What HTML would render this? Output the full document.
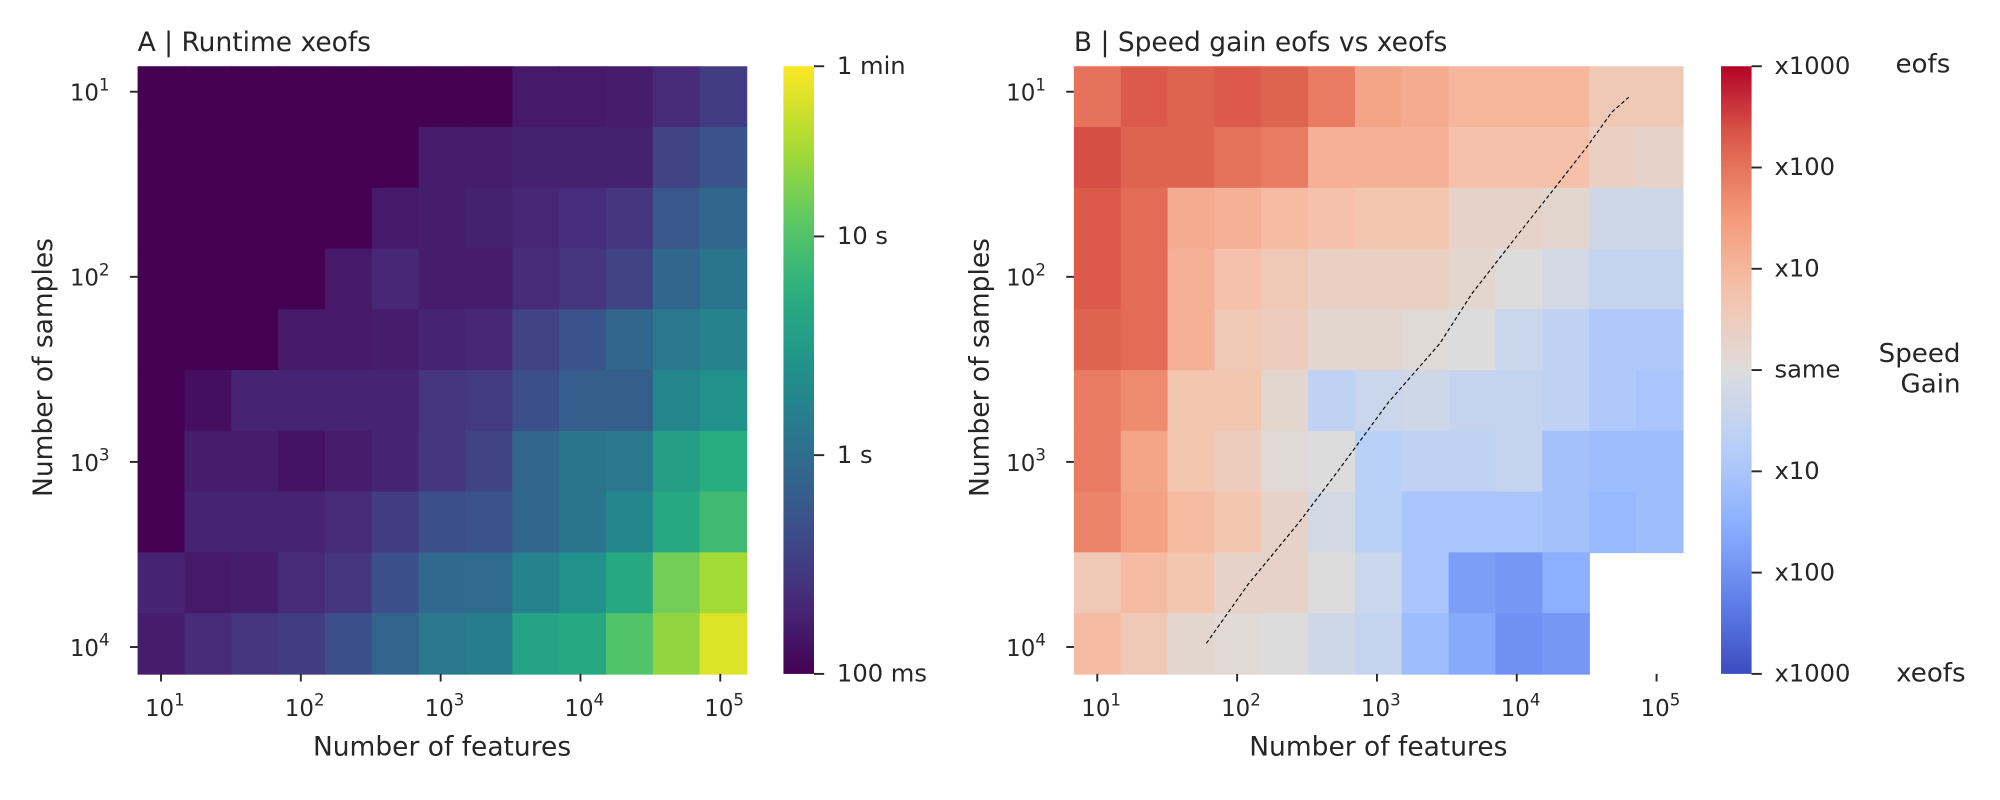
<!DOCTYPE html>
<html><head><meta charset="utf-8"><style>
html,body{margin:0;padding:0;background:#fff;}
svg{display:block;font-family:"DejaVu Sans","Liberation Sans",sans-serif;}
text{fill:#262626;}
</style></head><body>
<svg id="fig" width="2000" height="800" viewBox="0 0 1568 628" xmlns="http://www.w3.org/2000/svg">
<g id="panelA"></g>
<g id="panelB"></g>
</svg>
<script>
// ---- data ----
const featureTicks = [1, 2, 3, 4, 5];           // log10 of features
const sampleTicks = [1, 2, 3, 4];               // log10 of samples
const nCols = 13;
const nRows = 10;
// Panel A: log10(runtime in seconds) per cell (rows = samples, cols = features)
const runtimeLog = [
[-1,-1,-1,-1,-1,-1,-1,-1,-0.81,-0.81,-0.78,-0.67,-0.5],
[-1,-1,-1,-1,-1,-1,-0.78,-0.78,-0.75,-0.75,-0.75,-0.44,-0.28],
[-1,-1,-1,-1,-1,-0.81,-0.78,-0.75,-0.69,-0.64,-0.56,-0.25,-0.08],
[-1,-1,-1,-1,-0.81,-0.69,-0.78,-0.78,-0.67,-0.58,-0.44,-0.08,0.06],
[-1,-1,-1,-0.81,-0.81,-0.78,-0.72,-0.69,-0.44,-0.28,-0.08,0.11,0.22],
[-1,-0.89,-0.72,-0.72,-0.72,-0.72,-0.58,-0.53,-0.33,-0.17,-0.17,0.25,0.39],
[-1,-0.78,-0.78,-0.86,-0.78,-0.72,-0.56,-0.44,-0.08,0.06,0.11,0.56,0.72],
[-1,-0.72,-0.72,-0.72,-0.67,-0.5,-0.33,-0.28,-0.08,0.06,0.28,0.67,0.89],
[-0.72,-0.81,-0.78,-0.67,-0.56,-0.33,-0.06,-0.03,0.22,0.39,0.67,1.17,1.39],
[-0.78,-0.67,-0.56,-0.5,-0.33,-0.11,0.11,0.17,0.61,0.67,1.0,1.31,1.64]
];
const runtimeTickVals = [-1, 0, 1, 1.778];
const runtimeTickLabels = ["100 ms", "1 s", "10 s", "1 min"];
// Panel B: log10(speed gain), positive = eofs faster
const gainLog = [
[2.0,2.3,2.2,2.3,2.2,1.9,1.3,1.2,1.0,1.0,1.0,0.6,0.6],
[2.4,2.2,2.2,2.0,1.9,1.1,1.1,1.1,0.8,0.8,0.8,0.4,0.3],
[2.3,2.1,1.2,1.1,0.9,0.8,0.7,0.7,0.3,0.3,0.2,-0.3,-0.3],
[2.3,2.1,1.1,0.8,0.6,0.4,0.4,0.4,0.2,0.0,-0.2,-0.5,-0.5],
[2.2,2.1,1.1,0.6,0.5,0.2,0.2,0.1,0.0,-0.4,-0.6,-0.9,-0.9],
[1.9,1.7,0.7,0.7,0.2,-0.6,-0.4,-0.3,-0.5,-0.5,-0.6,-0.9,-1.0],
[1.9,1.3,0.7,0.5,0.1,0.0,-0.7,-0.6,-0.6,-0.5,-1.1,-1.2,-1.2],
[1.8,1.4,0.9,0.7,0.3,-0.2,-0.7,-1.0,-1.0,-1.0,-1.1,-1.3,-1.2],
[0.6,0.9,0.7,0.3,0.3,0.0,-0.4,-1.0,-1.8,-1.9,-1.5,null,null],
[0.9,0.6,0.2,0.1,0.0,-0.3,-0.5,-1.2,-1.6,-2.0,-1.9,null,null]
];
const gainTickVals = [3, 2, 1, 0, -1, -2, -3];
const gainTickLabels = ["x1000","x100","x10","same","x10","x100","x1000"];
// equal-runtime boundary line (log10 features, log10 samples)
const lineFeat = [1.78,2.08,2.44,2.72,3.08,3.45,3.68,4.00,4.22,4.50,4.68,4.80];
const lineSamp = [3.98,3.66,3.33,3.05,2.68,2.36,2.09,1.78,1.57,1.30,1.11,1.03];

// ---- colormaps ----
const VIR = [[68,1,84],[71,45,123],[59,82,139],[44,114,142],[33,145,140],[40,174,128],[94,201,98],[173,220,48],[253,231,37]];
const CW = [[59,76,192],[98,130,234],[141,176,254],[184,208,249],[221,220,220],[245,196,173],[244,154,123],[222,96,77],[180,4,38]];
function cmap(stops, t){
  t = Math.max(0, Math.min(1, t));
  const s = t*(stops.length-1), i = Math.min(Math.floor(s), stops.length-2), f = s-i;
  const a = stops[i], b = stops[i+1];
  return `rgb(${a.map((v,k)=>Math.round(v+(b[k]-v)*f)).join(',')})`;
}
const NS = "http://www.w3.org/2000/svg";
function el(tag, attrs, parent){
  const e = document.createElementNS(NS, tag);
  for (const k in attrs) e.setAttribute(k, attrs[k]);
  parent.appendChild(e); return e;
}
function txt(parent, x, y, s, size, anchor, extra){
  const t = el("text", Object.assign({x:x, y:y, "font-size":size, "text-anchor":anchor||"start"}, extra||{}), parent);
  t.textContent = s; return t;
}
function pow10(parent, x, y, exp, anchor){
  const t = el("text", {x:x, y:y, "font-size":18, "text-anchor":anchor||"middle"}, parent);
  const a = document.createElementNS(NS,"tspan"); a.textContent = "10"; t.appendChild(a);
  const b = document.createElementNS(NS,"tspan"); b.setAttribute("dy","-8"); b.setAttribute("font-size","13"); b.textContent = String(exp); t.appendChild(b);
  return t;
}

function drawPanel(g, opt){
  const L = opt.left, T = 52, W = 478, H = 477;
  const cw = W/nCols, ch = H/nRows;
  const xScale = v => L + cw/2 + (v-1)*3*cw*0.995;
  const yScale = v => 72 + (v-1)*145.3;
  const heat = el("g", {}, g);
  
  
  opt.data.forEach((row, r) => row.forEach((v, c) => {
    if (v === null) return;
    const rect = el("rect", {x:L+c*cw, y:T+r*ch, width:cw+0.6, height:ch+0.6, fill: opt.color(v)}, heat);
    
    
  }));
  const ti = txt(g, L, 40, opt.title, 20.8);
  
  
  featureTicks.forEach(v => {
    const x = xScale(v);
    el("line", {x1:x, x2:x, y1:T+H, y2:T+H+6, stroke:"#262626", "stroke-width":1.5}, g);
    const lab = pow10(g, x+3, T+H+33, v);
    
    
  });
  sampleTicks.forEach(v => {
    const y = yScale(v);
    el("line", {x1:L-6, x2:L, y1:y, y2:y, stroke:"#262626", "stroke-width":1.5}, g);
    const lab = pow10(g, L-22, y+7, v, "end");
    
    
  });
  const xl = txt(g, L+W/2, 593, "Number of features", 20.8, "middle");
  
  
  const yl = txt(g, 0, 0, "Number of samples", 20.8, "middle", {transform:`translate(${L-67},${T+H/2-2}) rotate(-90)`});
  
  
  const cbx = opt.cbx, cbw = 24;
  const defs = el("defs", {}, g);
  const grad = el("linearGradient", {id:opt.prefix+"grad", x1:0, y1:1, x2:0, y2:0}, defs);
  for (let i=0;i<=20;i++){ el("stop", {offset:(i/20), "stop-color":opt.color(opt.vmin+(opt.vmax-opt.vmin)*i/20)}, grad); }
  const cb = el("rect", {x:cbx, y:T, width:cbw, height:H, fill:`url(#${opt.prefix}grad)`}, g);
  
  
  const cbY = v => T + H - (v-opt.vmin)/(opt.vmax-opt.vmin)*H;
  opt.ticks.forEach((v,i) => {
    const y = cbY(v);
    el("line", {x1:cbx+cbw, x2:cbx+cbw+8, y1:y, y2:y, stroke:"#262626", "stroke-width":1.5}, g);
    const lab = txt(g, cbx+cbw+18, y+6, opt.tickLabels[i], 19);
    
    
  });
  return {xScale, yScale};
}

const gA = document.getElementById("panelA");
drawPanel(gA, {left:107, cbx:614, prefix:"runtime", title:"A | Runtime xeofs", data:runtimeLog,
  vmin:-1, vmax:1.778, color:v=>cmap(VIR,(v+1)/2.778), ticks:runtimeTickVals, tickLabels:runtimeTickLabels});

const gB = document.getElementById("panelB");
const sB = drawPanel(gB, {left:842, cbx:1350, prefix:"speed-gain", title:"B | Speed gain eofs vs xeofs", data:gainLog,
  vmin:-3, vmax:3, color:v=>cmap(CW,(v+3)/6), ticks:gainTickVals, tickLabels:gainTickLabels});
const pts = lineFeat.map((f,i)=> sB.xScale(f).toFixed(1)+","+sB.yScale(lineSamp[i]).toFixed(1)).join(" ");
const pl = el("polyline", {points:pts, fill:"none", stroke:"#000", "stroke-width":0.9, "stroke-dasharray":"3,2"}, gB);


const e1 = txt(gB, 1530, 57, "eofs", 20.5, "end");


const e2 = txt(gB, 1538, 284, "Speed", 20.5, "end");


const e3 = txt(gB, 1538, 308, "Gain", 20.5, "end");


const e4 = txt(gB, 1542, 535, "xeofs", 20.5, "end");


</script>
</body></html>
